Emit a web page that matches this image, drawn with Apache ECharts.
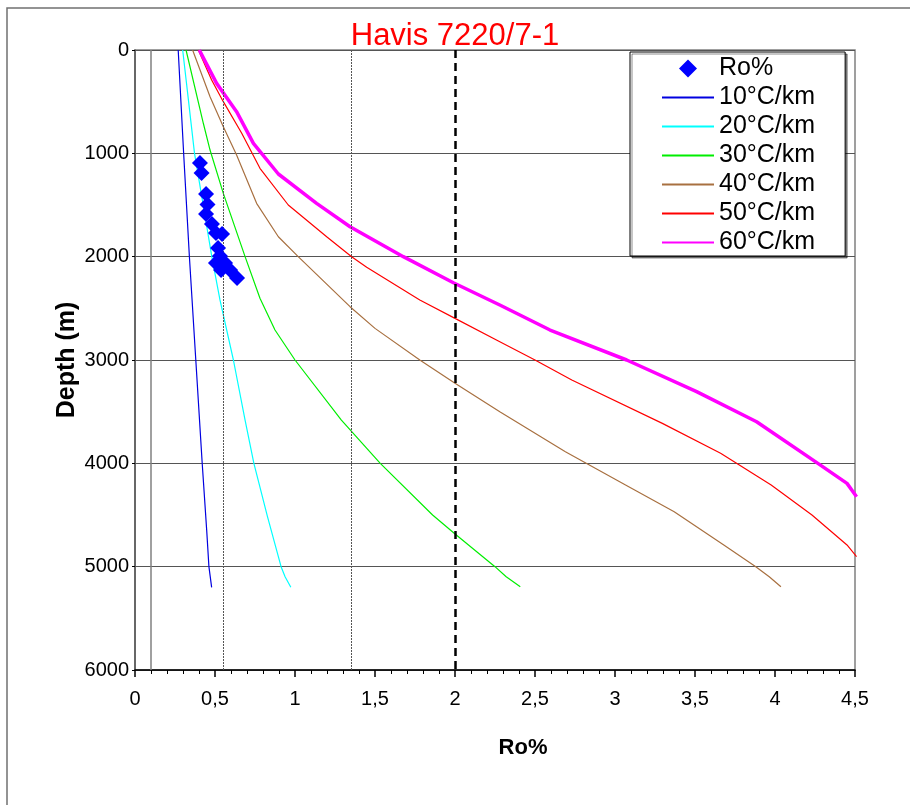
<!DOCTYPE html>
<html>
<head>
<meta charset="utf-8">
<script src="https://cdn.jsdelivr.net/npm/echarts@6/dist/echarts.min.js"></script>
<style>html,body{margin:0;padding:0;background:#fff}#c{width:910px;height:805px}</style>
</head>
<body>
<div id="c"></div>
<script>
const chartTitle = 'Havis 7220/7-1';
const seriesNames = ['Ro%', '10°C/km', '20°C/km', '30°C/km', '40°C/km', '50°C/km', '60°C/km'];
const xTicks = [0, 0.5, 1, 1.5, 2, 2.5, 3, 3.5, 4, 4.5];
const yTicks = [0, 1000, 2000, 3000, 4000, 5000, 6000];
const refLines = [0.1, 0.55, 1.35, 2.0];

// Measured vitrinite reflectance
const roMeasured    = [0.406, 0.416, 0.444, 0.453, 0.444, 0.481, 0.506, 0.544, 0.519, 0.531, 0.506, 0.563, 0.538, 0.594, 0.638];
const depthMeasured = [1094, 1190, 1394, 1495, 1587, 1684, 1771, 1781, 1916, 1994, 2061, 2061, 2129, 2129, 2206];

// Modelled curves
const depth10 = [0, 1000, 2000, 3000, 4000, 4645, 5000, 5200];
const ro10    = [0.27, 0.304, 0.34, 0.38, 0.42, 0.448, 0.462, 0.479];
const depth20 = [0, 500, 1000, 1600, 2000, 2419, 3000, 3581, 4000, 4516, 5000, 5097, 5200];
const ro20    = [0.298, 0.335, 0.372, 0.437, 0.48, 0.531, 0.615, 0.688, 0.743, 0.828, 0.913, 0.938, 0.974];
const depth30 = [0, 709, 968, 1387, 2000, 2403, 2710, 3000, 3581, 4000, 4500, 4677, 5000, 5097, 5194];
const ro30    = [0.319, 0.427, 0.469, 0.552, 0.688, 0.781, 0.875, 1.0, 1.29, 1.533, 1.86, 1.995, 2.25, 2.32, 2.408];
const depth40 = [0, 452, 742, 1016, 1484, 1807, 2000, 2484, 2694, 3000, 3226, 3500, 3887, 4210, 4468, 4790, 5000, 5097, 5194];
const ro40    = [0.36, 0.469, 0.552, 0.635, 0.76, 0.896, 1.02, 1.344, 1.5, 1.78, 2.0, 2.28, 2.69, 3.066, 3.37, 3.68, 3.88, 3.964, 4.037];
const depth50 = [0, 290, 500, 806, 1145, 1500, 1807, 2000, 2103, 2419, 2597, 2823, 3000, 3194, 3613, 3903, 4210, 4500, 4790, 4903];
const ro50    = [0.396, 0.479, 0.552, 0.667, 0.781, 0.958, 1.198, 1.354, 1.448, 1.78, 2.0, 2.28, 2.5, 2.73, 3.296, 3.66, 3.976, 4.231, 4.45, 4.51];
const depth60 = [0, 323, 597, 903, 1200, 1484, 1710, 2000, 2252, 2468, 2710, 3000, 3306, 3597, 4000, 4194, 4323];
const ro60    = [0.402, 0.51, 0.635, 0.74, 0.896, 1.135, 1.344, 1.677, 1.99, 2.28, 2.594, 3.073, 3.51, 3.885, 4.268, 4.45, 4.51];

const FONT = 'Liberation Sans, Arial, sans-serif';
const zip = (xs, ys) => xs.map((x, i) => [x, ys[i]]);

const curves = [
  { ro: ro10, d: depth10, color: '#0000e0', width: 1.2 },
  { ro: ro20, d: depth20, color: '#00ffff', width: 1.2 },
  { ro: ro30, d: depth30, color: '#00ee00', width: 1.2 },
  { ro: ro40, d: depth40, color: '#a87040', width: 1.2 },
  { ro: ro50, d: depth50, color: '#ff0000', width: 1.2 },
  { ro: ro60, d: depth60, color: '#ff00ff', width: 3.5 }
];

const refStyles = [
  { color: '#808080', width: 1.5, type: 'solid' },
  { color: '#555', width: 1, type: [2, 1] },
  { color: '#555', width: 1, type: [2, 1] },
  { color: '#000', width: 2.5, type: [8, 5] }
];

const series = [];
series.push({
  name: '__ref', type: 'line', data: [], silent: true, z: 1,
  markLine: {
    silent: true, symbol: 'none', animation: false,
    label: { show: false },
    data: refLines.map((v, i) => ({ xAxis: v, lineStyle: refStyles[i] }))
  }
});
curves.forEach((c, i) => {
  series.push({
    name: seriesNames[i + 1], type: 'line', data: zip(c.ro, c.d),
    symbol: 'none', showSymbol: false, z: 3,
    lineStyle: { color: c.color, width: c.width },
    itemStyle: { color: c.color },
    animation: false
  });
});
series.push({
  name: seriesNames[0], type: 'scatter', data: zip(roMeasured, depthMeasured),
  symbol: 'diamond', symbolSize: 16, z: 5, symbolKeepAspect: true,
  itemStyle: { color: '#0000ff', opacity: 1 }, animation: false
});

const legendData = seriesNames.map((n, i) => i === 0
  ? { name: n, icon: 'path://M0,-1L1,0L0,1L-1,0Z' }
  : { name: n, itemStyle: { opacity: 0 } });

const chart = echarts.init(document.getElementById('c'), null, { renderer: 'canvas' });
chart.setOption({
  backgroundColor: '#fff',
  animation: false,
  title: {
    text: chartTitle, left: 'center', top: 16,
    textStyle: { color: '#ff0000', fontSize: 31, fontWeight: 'normal', fontFamily: FONT }
  },
  graphic: [{
    type: 'rect', z: -10, silent: true,
    shape: { x: 7, y: 8, width: 1000, height: 1000 },
    style: { fill: 'none', stroke: '#707070', lineWidth: 1.5 }
  }],
  legend: {
    data: legendData, orient: 'vertical', left: 630, top: 52,
    padding: [4, 30, 1, 31], itemGap: 4, itemWidth: 52, itemHeight: 18,
    symbolKeepAspect: true,
    backgroundColor: '#fff', borderColor: '#000', borderWidth: 1,
    shadowColor: 'rgba(0,0,0,0.45)', shadowOffsetX: 2, shadowOffsetY: 2, shadowBlur: 0,
    textStyle: { fontSize: 25, lineHeight: 25, color: '#000', fontFamily: FONT },
    selectedMode: false
  },
  grid: {
    left: 135, right: 55, top: 50, bottom: 135, show: true,
    borderColor: '#808080', borderWidth: 1.5, backgroundColor: 'transparent'
  },
  xAxis: {
    type: 'value', min: 0, max: 4.5, interval: 0.5, position: 'bottom',
    name: 'Ro%', nameLocation: 'middle', nameGap: 67, nameMoveOverlap: false,
    nameTextStyle: { fontSize: 22, fontWeight: 'bold', color: '#000', fontFamily: FONT, padding: [0, 0, 0, 56] },
    axisLine: { show: true, onZero: false, lineStyle: { color: '#000', width: 1.5 } },
    axisTick: { show: true, inside: false, length: 7, lineStyle: { color: '#000', width: 1.5 } },
    minorTick: { show: true, splitNumber: 5, length: 4, lineStyle: { color: '#000', width: 1 } },
    axisLabel: { fontSize: 20, color: '#000', fontFamily: FONT, margin: 19,
      formatter: v => String(v).replace('.', ',') },
    splitLine: { show: false }
  },
  yAxis: {
    type: 'value', inverse: true, min: 0, max: 6000, interval: 1000,
    name: 'Depth (m)', nameLocation: 'middle', nameGap: 55, nameRotate: 90, nameMoveOverlap: false,
    nameTextStyle: { fontSize: 25, fontWeight: 'bold', color: '#000', fontFamily: FONT },
    axisLine: { show: true, onZero: false, lineStyle: { color: '#555', width: 1.5 } },
    axisTick: { show: true, inside: false, length: 3, lineStyle: { color: '#000' } },
    axisLabel: { fontSize: 20, color: '#000', fontFamily: FONT, margin: 6,
      formatter: v => String(v) },
    splitLine: { show: true, lineStyle: { color: '#555', width: 1 } }
  },
  series: series
});
</script>
</body>
</html>
